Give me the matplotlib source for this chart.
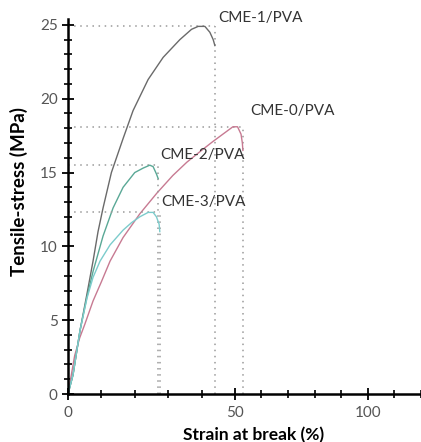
import numpy as np
import matplotlib
matplotlib.use('Agg')
import matplotlib.pyplot as plt
from matplotlib.ticker import MultipleLocator

plt.rcParams['font.family'] = ['Lato', 'DejaVu Sans']

# strain (%) / tensile stress (MPa)
cme1_strain = [0, 1.5, 3.6, 5.7, 7.5, 9, 10.5, 13, 16.5, 19.5, 24, 28.5, 33.5, 37, 39, 41, 42.5, 43.5, 44]
cme1_stress = [0, 1.3, 4.3, 6.8, 9.0, 11.0, 12.6, 15.0, 17.3, 19.2, 21.3, 22.8, 24.0, 24.7, 24.9, 24.9, 24.5, 24.0, 23.6]

cme0_strain = [0, 1, 2, 3.5, 5, 7.5, 10, 12.6, 16.5, 21.5, 26.6, 31.4, 35.6, 40, 43.4, 47, 49.4, 51, 52.3, 52.8, 53]
cme0_stress = [0, 1.3, 2.6, 3.8, 4.7, 6.3, 7.6, 9.0, 10.6, 12.2, 13.6, 14.8, 15.7, 16.5, 17.1, 17.7, 18.1, 18.1, 17.6, 17.0, 16.5]

cme2_strain = [0, 1.5, 3.6, 5.7, 7.5, 9, 10.5, 13.5, 16.5, 20, 22.5, 24.5, 25.5, 26.5, 27]
cme2_stress = [0, 1.3, 4.3, 6.6, 8.3, 9.5, 10.7, 12.6, 14.0, 15.0, 15.3, 15.5, 15.4, 14.9, 14.6]

cme3_strain = [0, 1.5, 3.6, 5.7, 7.5, 9.6, 12.6, 16.5, 19, 21.5, 24, 25.5, 26.5, 27.3, 27.5]
cme3_stress = [0, 1.3, 4.3, 6.5, 7.9, 9.0, 10.1, 11.1, 11.6, 12.0, 12.3, 12.3, 12.0, 11.5, 11.0]

names = ['CME-1/PVA', 'CME-0/PVA', 'CME-2/PVA', 'CME-3/PVA']
colors = ['#6a6a6a', '#c77a92', '#5aa896', '#7ccccc']
label_pos = [(44.9, 25.5), (55.6, 19.2), (27.5, 16.2), (27.8, 13.0)]

curves = [(cme1_strain, cme1_stress), (cme0_strain, cme0_stress),
          (cme2_strain, cme2_stress), (cme3_strain, cme3_stress)]


# the x axis of the original is stretched below 50 %
def fwd(x):
    x = np.asarray(x, float)
    return np.where(x < 50, x * 3.34, 167 + (x - 50) * 2.66)


def inv(p):
    p = np.asarray(p, float)
    return np.where(p < 167, p / 3.34, 50 + (p - 167) / 2.66)


fig = plt.figure(figsize=(4.21, 4.42), dpi=100)
ax = fig.add_axes([68 / 421, 48 / 442, 353 / 421, 375 / 442])
ax.set_xscale('function', functions=(fwd, inv))

for (s, t), c, n, pos in zip(curves, colors, names, label_pos):
    peak = max(t)
    brk = s[-1]
    # dotted guides to the peak stress and the strain at break
    ax.plot([0, brk], [peak, peak], ls=(0, (1, 3)), color='#9a9a9a', lw=1.1)
    ax.plot([brk, brk], [0, peak], ls=(0, (1, 3)), color='#9a9a9a', lw=1.1)
    ax.plot(s, t, color=c, lw=1.0)
    ax.text(pos[0], pos[1], n, fontsize=11, color='#333333', ha='left', va='center', clip_on=False)

ax.set_xlim(0, 120)
ax.set_ylim(0, 25.4)

ax.set_xticks([0, 50, 100])
ax.xaxis.set_minor_locator(MultipleLocator(10))
ax.yaxis.set_major_locator(MultipleLocator(5))
ax.yaxis.set_minor_locator(MultipleLocator(1))

for sp in ['top', 'right']:
    ax.spines[sp].set_visible(False)
for sp in ['left', 'bottom']:
    ax.spines[sp].set_linewidth(1.8)
    ax.spines[sp].set_color('black')

ax.tick_params(which='major', direction='inout', length=9, width=1.3, labelsize=11,
               labelcolor='#555555', pad=3)
ax.tick_params(which='minor', direction='inout', length=6, width=1.2)
ax.tick_params(axis='x', which='major', pad=4)

ax.set_xlabel('Strain at break (%)', fontsize=12.5, fontweight='bold')
ax.set_ylabel('Tensile-stress (MPa)', fontsize=13.5, fontweight='bold')
ax.xaxis.set_label_coords(0.527, -0.088)
ax.yaxis.set_label_coords(-0.113, 0.539)

fig.savefig('out.png', dpi=100)
